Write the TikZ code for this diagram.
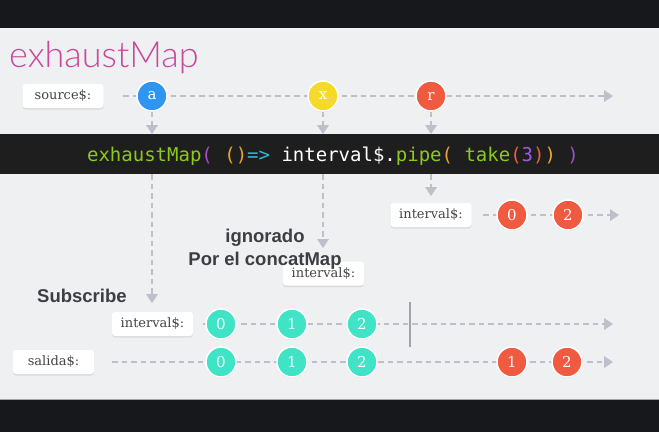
\documentclass[tikz,border=0pt]{standalone}
\usepackage{fontspec}
\setmainfont{DejaVu Serif}
\newfontfamily\codefont{DejaVu Sans Mono}
\newfontfamily\titlefont{Lato Light}
\newfontfamily\boldsans{Liberation Sans}
\usetikzlibrary{arrows.meta,shadows}
\definecolor{bgdark}{HTML}{16181C}
\definecolor{bglight}{HTML}{EFF0F2}
\definecolor{codebg}{HTML}{1E1E1E}
\definecolor{lineg}{HTML}{BEBFCA}
\definecolor{titlec}{HTML}{C8479B}
\definecolor{mblue}{HTML}{2F95F3}
\definecolor{myellow}{HTML}{F6DA2B}
\definecolor{mred}{HTML}{F05A40}
\definecolor{mteal}{HTML}{3FE3C6}
\definecolor{labtext}{HTML}{444444}
\definecolor{darktext}{HTML}{3D3E44}
\definecolor{cgreen}{HTML}{8CC81E}
\definecolor{cpurple}{HTML}{A54CC8}
\definecolor{corange}{HTML}{EAA231}
\definecolor{ccyan}{HTML}{33B5D5}
\definecolor{cred}{HTML}{E5623C}
\definecolor{cnum}{HTML}{9A5CE6}
\tikzset{
  tl/.style={draw=lineg, line width=2.8pt, dash pattern=on 5.5pt off 4pt},
  tlarrow/.style={tl, -{Triangle[length=9pt,width=12pt,fill=lineg,line width=0pt]}},
  marble/.style={circle, minimum size=30pt, inner sep=0pt, draw=white, line width=1.5pt,
    text=white, font=\fontsize{15}{15}\selectfont,
    drop shadow={shadow xshift=0pt, shadow yshift=-1pt, fill=black!18, opacity=1}},
  labelbox/.style={rectangle, rounded corners=3pt, fill=white, minimum width=81pt,
    minimum height=24pt, inner sep=0pt, text=labtext, font=\fontsize{13}{13}\selectfont,
    drop shadow={shadow xshift=0pt, shadow yshift=-1.5pt, fill=black!14, opacity=1}},
  boldtxt/.style={text=darktext, inner sep=0pt, font=\boldsans\bfseries\fontsize{18.5}{18.5}\selectfont}
}
\begin{document}
\begin{tikzpicture}[x=1pt,y=-1pt]
\useasboundingbox (0,0) rectangle (659,432);
% backgrounds
\fill[bgdark] (0,0) rectangle (659,432);
\fill[bglight] (0,28) rectangle (659,399);
\draw[black!35, line width=1pt] (0,399.5) -- (659,399.5);
\fill[codebg] (0,134) rectangle (659,174);
% title
\node[anchor=base west, inner sep=0pt, text=titlec, font=\titlefont\fontsize{36}{36}\selectfont] (title) at (9,67) {exhaustMap};
% code
\node[inner sep=0pt, font=\codefont\fontsize{19}{19}\selectfont] (code) at (333,156)
 {\textcolor{cgreen}{exhaustMap}\textcolor{cpurple}{(}\textcolor{corange}{\ ()}\textcolor{ccyan}{=>}\textcolor{white}{\ interval\$.}\textcolor{cgreen}{pipe}\textcolor{corange}{(}\textcolor{cgreen}{\ take}\textcolor{cred}{(}\textcolor{cnum}{3}\textcolor{cred}{)}\textcolor{corange}{)}\textcolor{cpurple}{\ )}};
% coordinates
\coordinate (srcS) at (123,96);   \coordinate (srcE) at (613,96);
\coordinate (ivaS) at (483,215);  \coordinate (ivaE) at (619,215);
\coordinate (ivbS) at (203,324);  \coordinate (ivbE) at (613,324);
\coordinate (salS) at (112,362);  \coordinate (salE) at (613,362);
\coordinate (barTa) at (152,134); \coordinate (barBa) at (152,174); \coordinate (endA) at (152,303);
\coordinate (barTx) at (323,134); \coordinate (barBx) at (323,174); \coordinate (endX) at (323,248);
\coordinate (barTr) at (431,134); \coordinate (barBr) at (431,174); \coordinate (endR) at (431,196);
\coordinate (stopT) at (410,302); \coordinate (stopB) at (410,347);
% timelines
\draw[tlarrow] (srcS) -- (srcE);
\draw[tlarrow] (ivaS) -- (ivaE);
\draw[tlarrow] (ivbS) -- (ivbE);
\draw[tlarrow] (salS) -- (salE);
\draw[lineg!85!black, line width=2pt] (stopT) -- (stopB);
% labels
\node[labelbox] (source) at (63,96) {source\$:};
\node[labelbox] (iva) at (431,215) {interval\$:};
\node[labelbox] (ivx) at (323.5,273.5) {interval\$:};
\node[labelbox] (ivb) at (152.5,324) {interval\$:};
\node[labelbox] (sal) at (53.5,362) {salida\$:};
% marbles
\node[marble, fill=mblue] (a) at (152,96) {a};
\node[marble, fill=myellow] (x) at (323,96) {x};
\node[marble, fill=mred] (r) at (431,96) {r};
\node[marble, fill=mred] (ia0) at (512,215) {0};
\node[marble, fill=mred] (ia2) at (568,215) {2};
\node[marble, fill=mteal] (ib0) at (221,324) {0};
\node[marble, fill=mteal] (ib1) at (292,324) {1};
\node[marble, fill=mteal] (ib2) at (362,324) {2};
\node[marble, fill=mteal] (s0) at (221,362) {0};
\node[marble, fill=mteal] (s1) at (292,362) {1};
\node[marble, fill=mteal] (s2) at (362,362) {2};
\node[marble, fill=mred] (s3) at (512,362) {1};
\node[marble, fill=mred] (s4) at (567,362) {2};
% vertical arrows
\draw[tlarrow] (a.south) -- (barTa);
\draw[tlarrow] (x.south) -- (barTx);
\draw[tlarrow] (r.south) -- (barTr);
\draw[tlarrow] (barBa) -- (endA);
\draw[tlarrow] (barBx) -- (endX);
\draw[tlarrow] (barBr) -- (endR);
% texts
\node[boldtxt, anchor=base] (ign) at (265,242) {ignorado};
\node[boldtxt, anchor=base] (por) at (265,265) {Por el concatMap};
\node[boldtxt, anchor=base west] (sub) at (37,302) {Subscribe};
\end{tikzpicture}
\end{document}
